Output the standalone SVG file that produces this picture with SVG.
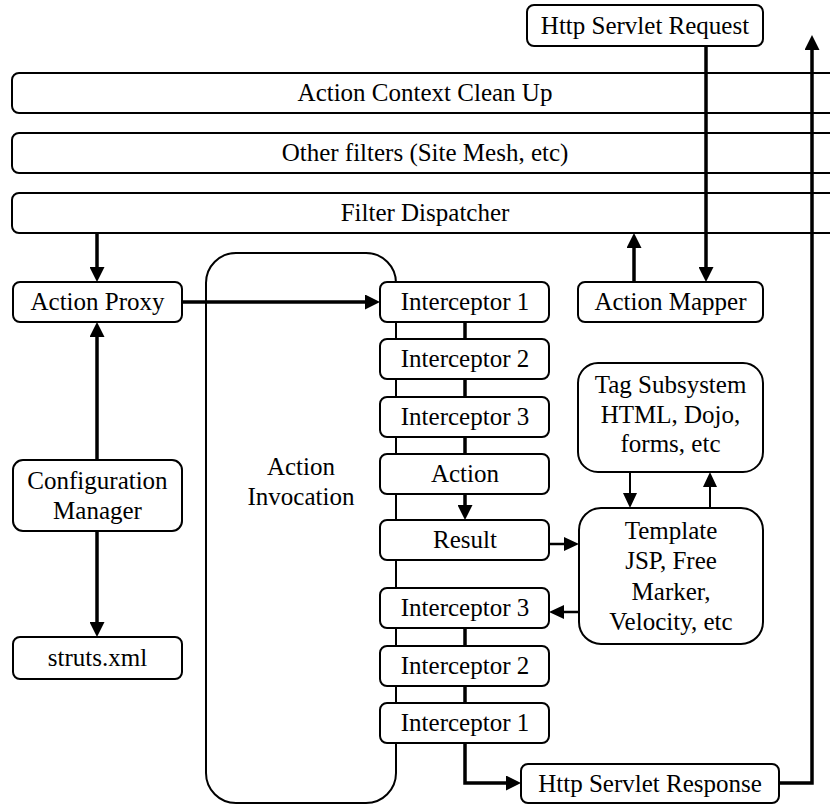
<svg xmlns="http://www.w3.org/2000/svg" width="830" height="805" viewBox="0 0 830 805" font-family="Liberation Serif, DejaVu Serif, serif">
<style>
.box{fill:#fff;stroke:#000;stroke-width:2}
.t{font-size:25px;fill:#000;text-anchor:middle}
.thick{fill:none;stroke:#000;stroke-width:3.5}
.mid{fill:none;stroke:#000;stroke-width:2.5}
.thin{fill:none;stroke:#000;stroke-width:2}
</style>
<defs>
<marker id="ah" markerWidth="15" markerHeight="15" refX="5" refY="7.5" orient="auto" markerUnits="userSpaceOnUse"><path d="M0,0 L15,7.5 L0,15 z" fill="#000"/></marker>
<marker id="ahs" markerWidth="15" markerHeight="14" refX="5" refY="7" orient="auto" markerUnits="userSpaceOnUse"><path d="M0,0 L15,7 L0,14 z" fill="#000"/></marker>
</defs>
<rect x="0" y="0" width="830" height="805" fill="#fff"/>
<g id="action-context-clean-up"><rect class="box" x="12" y="73" width="826" height="40" rx="7"/><text class="t" x="425" y="101">Action Context Clean Up</text></g>
<g id="other-filters"><rect class="box" x="12" y="133" width="826" height="40" rx="7"/><text class="t" x="425" y="161">Other filters (Site Mesh, etc)</text></g>
<g id="filter-dispatcher"><rect class="box" x="12" y="193" width="826" height="40" rx="7"/><text class="t" x="425" y="221">Filter Dispatcher</text></g>
<g id="http-servlet-request"><rect class="box" x="527" y="5" width="236" height="41" rx="7"/><text class="t" x="645" y="34">Http Servlet Request</text></g>
<g id="action-invocation"><rect class="box" x="206" y="253" width="190" height="550" rx="30"/><text class="t" x="301" y="475">Action</text><text class="t" x="301" y="505">Invocation</text></g>
<g id="connectors">
<path class="thick" d="M97,233 V272" marker-end="url(#ah)"/>
<path class="thick" d="M97,460 V332" marker-end="url(#ah)"/>
<path class="thick" d="M97,531 V627" marker-end="url(#ah)"/>
<path class="thick" d="M182,302 H370" marker-end="url(#ah)"/>
<path class="thick" d="M706,46 V272" marker-end="url(#ah)"/>
<path class="thick" d="M634,282 V243" marker-end="url(#ah)"/>
<path class="thick" d="M465,322 V339"/>
<path class="thick" d="M465,379 V397"/>
<path class="thick" d="M465,437 V454"/>
<path class="thick" d="M465,494 V510" marker-end="url(#ah)"/>
<path class="thick" d="M465,628 V646"/>
<path class="thick" d="M465,686 V703"/>
<path class="thick" d="M465,743 V783 H511" marker-end="url(#ah)"/>
<path class="thick" d="M779,783 H812 V45" marker-end="url(#ah)"/>
<path class="mid" d="M549,544 H569" marker-end="url(#ahs)"/>
<path class="mid" d="M579,612 H559" marker-end="url(#ahs)"/>
<path class="thin" d="M630,472 V498" marker-end="url(#ahs)"/>
<path class="thin" d="M710,508 V482" marker-end="url(#ahs)"/>
</g>
<g id="action-proxy"><rect class="box" x="13" y="282" width="169" height="40" rx="7"/><text class="t" x="97.5" y="310">Action Proxy</text></g>
<g id="configuration-manager"><rect class="box" x="13" y="460" width="169" height="71" rx="10"/><text class="t" x="97.5" y="489">Configuration</text><text class="t" x="97.5" y="519">Manager</text></g>
<g id="struts-xml"><rect class="box" x="13" y="637" width="169" height="42" rx="7"/><text class="t" x="97.5" y="666">struts.xml</text></g>
<g id="action-mapper"><rect class="box" x="578" y="282" width="185" height="40" rx="7"/><text class="t" x="670.5" y="310">Action Mapper</text></g>
<g id="interceptor-1-in"><rect class="box" x="380" y="282" width="169" height="40" rx="7"/><text class="t" x="465" y="310">Interceptor 1</text></g>
<g id="interceptor-2-in"><rect class="box" x="380" y="339" width="169" height="40" rx="7"/><text class="t" x="465" y="367">Interceptor 2</text></g>
<g id="interceptor-3-in"><rect class="box" x="380" y="397" width="169" height="40" rx="7"/><text class="t" x="465" y="425">Interceptor 3</text></g>
<g id="action"><rect class="box" x="380" y="454" width="169" height="40" rx="7"/><text class="t" x="465" y="482">Action</text></g>
<g id="result"><rect class="box" x="380" y="520" width="169" height="40" rx="7"/><text class="t" x="465" y="548">Result</text></g>
<g id="interceptor-3-out"><rect class="box" x="380" y="588" width="169" height="40" rx="7"/><text class="t" x="465" y="616">Interceptor 3</text></g>
<g id="interceptor-2-out"><rect class="box" x="380" y="646" width="169" height="40" rx="7"/><text class="t" x="465" y="674">Interceptor 2</text></g>
<g id="interceptor-1-out"><rect class="box" x="380" y="703" width="169" height="40" rx="7"/><text class="t" x="465" y="731">Interceptor 1</text></g>
<g id="tag-subsystem"><rect class="box" x="578" y="363" width="185" height="109" rx="20"/><text class="t" x="670.5" y="393">Tag Subsystem</text><text class="t" x="670.5" y="423">HTML, Dojo,</text><text class="t" x="670.5" y="452">forms, etc</text></g>
<g id="template"><rect class="box" x="579" y="508" width="184" height="136" rx="22"/><text class="t" x="671" y="539">Template</text><text class="t" x="671" y="569">JSP, Free</text><text class="t" x="671" y="600">Marker,</text><text class="t" x="671" y="630">Velocity, etc</text></g>
<g id="http-servlet-response"><rect class="box" x="521" y="764" width="258" height="39" rx="7"/><text class="t" x="650" y="792">Http Servlet Response</text></g>
</svg>
